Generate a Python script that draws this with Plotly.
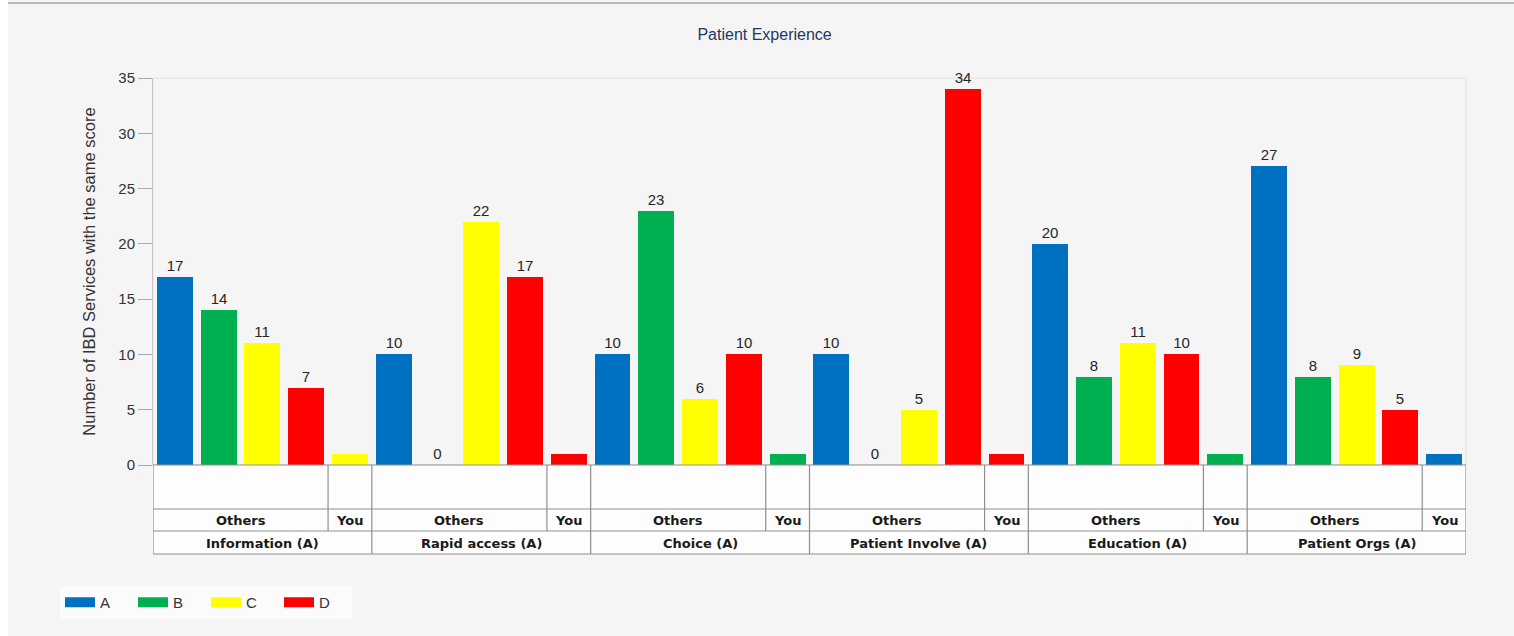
import plotly.graph_objects as go

# ---------------- data ----------------
groups = ["Information (A)", "Rapid access (A)", "Choice (A)",
          "Patient Involve (A)", "Education (A)", "Patient Orgs (A)"]
series = ["A", "B", "C", "D"]
vals_A = [17, 10, 10, 10, 20, 27]
vals_B = [14, 0, 23, 0, 8, 8]
vals_C = [11, 22, 6, 5, 11, 9]
vals_D = [7, 17, 10, 34, 10, 5]
you_grade = ["C", "D", "B", "D", "B", "A"]
you_value = [1, 1, 1, 1, 1, 1]
sub_labels = ["Others", "You"]
y_ticks = [0, 5, 10, 15, 20, 25, 30, 35]

colors = {"A": "#0070C0", "B": "#00B050", "C": "#FFFF00", "D": "#FF0000"}
others = {"A": vals_A, "B": vals_B, "C": vals_C, "D": vals_D}

# ---------------- layout constants ----------------
W, H = 1514, 636
ML, MR, MT, MB = 153, 48, 78, 171
plot_h = H - MT - MB
SLOTS = 5  # 4 "Others" slots + 1 "You" slot per group


def py(pix):
    """pixel row -> paper y"""
    return (H - MB - pix) / plot_h


def px(pix):
    return (pix - ML) / (W - ML - MR)


fig = go.Figure()
for si, s in enumerate(series):
    xs, ys, ts = [], [], []
    for g in range(len(groups)):
        xs.append(g * SLOTS + si)
        ys.append(others[s][g])
        ts.append(str(others[s][g]))
        if you_grade[g] == s:
            xs.append(g * SLOTS + 4)
            ys.append(you_value[g])
            ts.append("")
    fig.add_trace(go.Bar(
        x=xs, y=ys, text=ts, textposition="outside", width=0.82,
        marker=dict(color=colors[s], line=dict(width=0)),
        textfont=dict(family="Liberation Sans, Arial", size=15, color="#262626"),
        cliponaxis=False, showlegend=False, legendgroup=s, name=s,
    ))
    # legend swatch
    fig.add_trace(go.Scatter(
        x=[None], y=[None], mode="lines", name=s, legendgroup=s,
        line=dict(color=colors[s], width=15),
    ))

shapes = []
x0, x1 = -0.5, len(groups) * SLOTS - 0.5
line_col = "#8f8f8f"
# white strip on the left of the page
shapes.append(dict(type="rect", xref="paper", yref="paper", x0=px(0), x1=px(8),
                   y0=py(H), y1=py(0), fillcolor="#ffffff", line=dict(width=0), layer="below"))
# top border of page
shapes.append(dict(type="line", xref="paper", yref="paper", x0=px(8), x1=px(W),
                   y0=py(3), y1=py(3), line=dict(color="#9aa6b2", width=1.5)))
# plot frame (faint)
shapes.append(dict(type="rect", xref="paper", yref="paper", x0=0, x1=1, y0=0, y1=1,
                   line=dict(color="#e3e3e3", width=1), layer="below"))
# table background
shapes.append(dict(type="rect", xref="x", yref="paper", x0=x0, x1=x1,
                   y0=py(554), y1=0, fillcolor="#fdfdfd", line=dict(width=0), layer="below"))
# horizontal table lines
for pr in (465, 509, 531, 554):
    shapes.append(dict(type="line", xref="x", yref="paper", x0=x0, x1=x1,
                       y0=py(pr), y1=py(pr), line=dict(color=line_col, width=1.2)))
# vertical lines
for g in range(len(groups) + 1):
    xb = g * SLOTS - 0.5
    shapes.append(dict(type="line", xref="x", yref="paper", x0=xb, x1=xb,
                       y0=py(554), y1=0, line=dict(color=line_col, width=1.2)))
for g in range(len(groups)):
    xb = g * SLOTS + 3.5
    shapes.append(dict(type="line", xref="x", yref="paper", x0=xb, x1=xb,
                       y0=py(531), y1=0, line=dict(color=line_col, width=1.2)))

annotations = []
tfont = dict(family="DejaVu Sans", size=13, color="#1a1a1a")
for g, name in enumerate(groups):
    annotations.append(dict(x=g * SLOTS + 1.5, y=py(520.5), xref="x", yref="paper",
                            xanchor="center", yanchor="middle",
                            text="<b>%s</b>" % sub_labels[0], showarrow=False, font=tfont))
    annotations.append(dict(x=g * SLOTS + 4, y=py(520.5), xref="x", yref="paper",
                            xanchor="center", yanchor="middle",
                            text="<b>%s</b>" % sub_labels[1], showarrow=False, font=tfont))
    annotations.append(dict(x=g * SLOTS + 2, y=py(543), xref="x", yref="paper",
                            xanchor="center", yanchor="middle",
                            text="<b>%s</b>" % name, showarrow=False, font=tfont))

fig.update_layout(
    width=W, height=H,
    margin=dict(l=ML, r=MR, t=MT, b=MB),
    paper_bgcolor="#f5f5f5", plot_bgcolor="#f5f5f5",
    title=dict(text="Patient Experience", x=0.505, xref="container", y=1 - 34 / H,
               yref="container", xanchor="center", yanchor="middle",
               font=dict(family="Liberation Sans, Arial", size=16, color="#1f3864")),
    font=dict(family="Liberation Sans, Arial", color="#333333"),
    barmode="overlay", bargap=0,
    xaxis=dict(range=[x0, x1], showticklabels=False, ticks="", showgrid=False,
               zeroline=False, showline=False, fixedrange=True),
    yaxis=dict(range=[0, 35], tickvals=y_ticks, ticks="outside", ticklen=14,
               tickcolor="#a8a8a8", tickwidth=1, showline=True, linecolor="#c4c4c4",
               linewidth=1, showgrid=False, zeroline=False,
               tickfont=dict(size=15, color="#333333"),
               title=dict(text="Number of IBD Services with the same score",
                          font=dict(size=16.5, color="#333333"), standoff=18)),
    legend=dict(orientation="h", xref="container", yref="container",
                x=60 / W, y=1 - 586 / H, xanchor="left", yanchor="top",
                bgcolor="#fbfbfb", font=dict(size=15, color="#333333"),
                itemwidth=30, entrywidth=28, entrywidthmode="pixels",
                tracegroupgap=0),
    shapes=shapes, annotations=annotations,
)

fig.write_html("out.html", config={"displayModeBar": False},
               post_script="document.body.style.margin='0px';")
